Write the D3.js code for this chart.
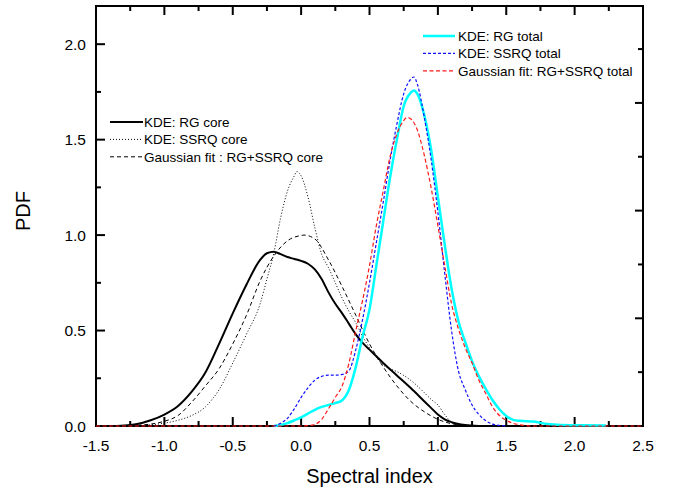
<!DOCTYPE html>
<html>
<head>
<meta charset="utf-8">
<script src="https://cdn.jsdelivr.net/npm/d3@7"></script>
<style>
  body { margin: 0; background: #fff; }
  text { font-family: "Liberation Sans", Arial, sans-serif; fill: #000; }
</style>
</head>
<body>
<div id="chart"></div>
<script>
// values: [spectral index, PDF]
var rgCore = [[-1.35,0],[-1.25,0.005],[-1.2,0.01],[-1.1,0.03],[-1.0,0.06],[-0.9,0.105],[-0.8,0.18],
  [-0.7,0.28],[-0.6,0.43],[-0.5,0.59],[-0.4,0.74],[-0.3,0.87],[-0.25,0.905],[-0.2,0.913],[-0.15,0.9],
  [-0.1,0.885],[-0.05,0.875],[0.0,0.865],[0.05,0.85],[0.1,0.82],[0.15,0.77],[0.2,0.7],[0.25,0.64],
  [0.3,0.59],[0.35,0.535],[0.4,0.48],[0.45,0.435],[0.5,0.4],[0.55,0.365],[0.6,0.33],[0.7,0.265],
  [0.8,0.2],[0.9,0.13],[0.95,0.095],[1.0,0.06],[1.05,0.035],[1.1,0.02],[1.2,0.005],[1.3,0]];

var ssrqCore = [[-1.2,0],[-1.1,0.006],[-1.0,0.015],[-0.9,0.03],[-0.8,0.055],[-0.7,0.1],[-0.65,0.14],
  [-0.6,0.19],[-0.5,0.33],[-0.4,0.48],[-0.3,0.64],[-0.25,0.77],[-0.2,0.905],[-0.15,1.09],[-0.1,1.23],
  [-0.05,1.31],[-0.03,1.333],[0.0,1.31],[0.05,1.2],[0.1,1.04],[0.15,0.9],[0.2,0.83],[0.25,0.75],
  [0.3,0.67],[0.35,0.6],[0.4,0.54],[0.45,0.47],[0.5,0.41],[0.55,0.36],[0.6,0.32],[0.65,0.3],
  [0.7,0.285],[0.75,0.265],[0.8,0.24],[0.85,0.21],[0.9,0.175],[0.95,0.14],[1.0,0.11],[1.05,0.06],
  [1.1,0.02],[1.15,0.008],[1.2,0.003],[1.3,0]];

var gaussCore = [[-1.3,0],[-1.2,0.004],[-1.1,0.01],[-1.0,0.025],[-0.9,0.055],[-0.8,0.125],[-0.7,0.21],
  [-0.6,0.3],[-0.5,0.43],[-0.4,0.58],[-0.3,0.76],[-0.2,0.89],[-0.1,0.97],[0.0,0.998],[0.02,1.0],
  [0.1,0.98],[0.2,0.87],[0.3,0.73],[0.4,0.58],[0.5,0.43],[0.6,0.31],[0.7,0.21],[0.8,0.13],
  [0.9,0.075],[1.0,0.035],[1.1,0.012],[1.2,0.003],[1.3,0]];

var rgTotal = [[-0.2,0],[-0.15,0.005],[-0.1,0.015],[-0.05,0.03],[0.0,0.045],[0.05,0.065],[0.1,0.085],
  [0.15,0.1],[0.2,0.11],[0.25,0.12],[0.3,0.135],[0.35,0.19],[0.4,0.31],[0.45,0.47],[0.5,0.61],
  [0.55,0.84],[0.6,1.07],[0.65,1.3],[0.7,1.5],[0.75,1.675],[0.8,1.745],[0.825,1.757],[0.85,1.74],
  [0.9,1.63],[0.95,1.45],[1.0,1.2],[1.05,0.95],[1.1,0.72],[1.15,0.55],[1.2,0.44],[1.25,0.34],
  [1.3,0.26],[1.35,0.195],[1.4,0.135],[1.45,0.088],[1.5,0.052],[1.55,0.032],[1.6,0.027],[1.7,0.023],
  [1.8,0.01],[1.9,0.005],[2.0,0.004],[2.23,0.002]];

var ssrqTotal = [[-0.2,0],[-0.15,0.014],[-0.1,0.04],[-0.05,0.09],[0.0,0.15],[0.05,0.2],[0.1,0.24],
  [0.15,0.26],[0.2,0.266],[0.25,0.266],[0.3,0.27],[0.35,0.29],[0.4,0.4],[0.45,0.56],[0.5,0.75],
  [0.55,0.96],[0.6,1.17],[0.65,1.39],[0.7,1.58],[0.75,1.74],[0.8,1.815],[0.825,1.828],[0.85,1.79],
  [0.9,1.62],[0.95,1.4],[1.0,1.12],[1.05,0.8],[1.1,0.5],[1.15,0.29],[1.2,0.19],[1.25,0.11],
  [1.3,0.06],[1.35,0.028],[1.4,0.01],[1.45,0.003],[1.5,0]];

var gaussTotal = [[-1.5,0],[0.0,0],[0.05,0.002],[0.1,0.008],[0.15,0.035],[0.2,0.09],[0.25,0.15],
  [0.3,0.21],[0.35,0.33],[0.4,0.5],[0.45,0.66],[0.5,0.84],[0.55,1.05],[0.6,1.23],[0.65,1.41],
  [0.7,1.53],[0.75,1.6],[0.775,1.616],[0.8,1.61],[0.85,1.55],[0.9,1.42],[0.95,1.25],[1.0,1.05],
  [1.05,0.84],[1.1,0.64],[1.15,0.51],[1.2,0.41],[1.25,0.33],[1.3,0.24],[1.35,0.17],[1.4,0.1],
  [1.45,0.055],[1.5,0.03],[1.55,0.014],[1.6,0.006],[1.7,0],[2.5,0]];

var xMajor = [-1.5,-1.0,-0.5,0.0,0.5,1.0,1.5,2.0,2.5];
var xMinor = [-1.25,-0.75,-0.25,0.25,0.75,1.25,1.75,2.25];
var yMajor = [0.0,0.5,1.0,1.5,2.0];
var yMinor = [0.25,0.75,1.25,1.75];
var rMajor = [0.5,1.0,1.5];
var rMinor = [0.25,0.75,1.25,1.75];

var legendCore = ["KDE: RG core", "KDE: SSRQ core", "Gaussian fit : RG+SSRQ core"];
var legendTotal = ["KDE: RG total", "KDE: SSRQ total", "Gaussian fit: RG+SSRQ total"];

// layout
var margin = {top: 6, right: 37, bottom: 65, left: 96},
    width = 680 - margin.left - margin.right,
    height = 491 - margin.top - margin.bottom;

var svg = d3.select("#chart")
    .append("svg")
    .attr("width", 680)
    .attr("height", 491)
    .append("g")
    .attr("transform", "translate(" + margin.left + "," + margin.top + ")");

var x = d3.scaleLinear().domain([-1.5, 2.5]).range([0, width]);
var y = d3.scaleLinear().domain([0, 2.2]).range([height, 0]);
// the right-hand axis of the original has its own (unlabelled) scale
var yRight = d3.scaleLinear().domain([0, 1.95]).range([height, 0]);

var fmt = function(d) { return d3.format(".1f")(d).replace("−", "-"); };

// inward ticks on all four sides
var ticks = svg.append("g").attr("stroke", "#000").attr("stroke-width", 2);
function xTicks(vals, len) {
  ticks.selectAll(null).data(vals).enter().append("line")
    .attr("x1", x).attr("x2", x).attr("y1", height).attr("y2", height - len);
  ticks.selectAll(null).data(vals).enter().append("line")
    .attr("x1", x).attr("x2", x).attr("y1", 0).attr("y2", len);
}
function yTicks(scale, vals, len, side) {
  var x0 = side === "left" ? 0 : width, k = side === "left" ? 1 : -1;
  ticks.selectAll(null).data(vals).enter().append("line")
    .attr("y1", scale).attr("y2", scale).attr("x1", x0).attr("x2", x0 + k * len);
}
xTicks(xMajor, 9);
xTicks(xMinor, 5);
yTicks(y, yMajor, 9, "left");
yTicks(y, yMinor, 5, "left");
yTicks(yRight, rMajor, 8, "right");
yTicks(yRight, rMinor, 5, "right");

// tick labels
svg.selectAll(null).data(xMajor).enter().append("text")
  .attr("x", x).attr("y", height + 25)
  .attr("text-anchor", "middle")
  .style("font-size", "15.5px")
  .text(fmt);

svg.selectAll(null).data(yMajor).enter().append("text")
  .attr("x", -10).attr("y", y)
  .attr("dy", "0.36em")
  .attr("text-anchor", "end")
  .style("font-size", "15.5px")
  .text(fmt);

// frame
svg.append("rect")
  .attr("x", 0).attr("y", 0)
  .attr("width", width).attr("height", height)
  .attr("fill", "none").attr("stroke", "#000").attr("stroke-width", 2);

// axis titles
svg.append("text")
  .attr("x", x(0.5)).attr("y", height + 57)
  .attr("text-anchor", "middle")
  .style("font-size", "20px")
  .text("Spectral index");

svg.append("text")
  .attr("transform", "translate(" + (-66) + "," + (height / 2 - 5) + ") rotate(-90)")
  .attr("text-anchor", "middle")
  .style("font-size", "20px")
  .text("PDF");

// curves
var line = d3.line()
  .x(function(d) { return x(d[0]); })
  .y(function(d) { return y(d[1]); })
  .curve(d3.curveMonotoneX);

var series = [
  {data: rgCore,    color: "#000",    width: 2,   dash: null},
  {data: ssrqCore,  color: "#000",    width: 1,   dash: "1,2"},
  {data: gaussCore, color: "#000",    width: 1,   dash: "4,3"},
  {data: rgTotal,   color: "#00ffff", width: 2.5, dash: null},
  {data: ssrqTotal, color: "#1010ff", width: 1.2, dash: "3,2"},
  {data: gaussTotal,color: "#ff1a1a", width: 1.2, dash: "4,2.5"}
];

series.forEach(function(s) {
  svg.append("path")
    .datum(s.data)
    .attr("fill", "none")
    .attr("stroke", s.color)
    .attr("stroke-width", s.width)
    .attr("stroke-dasharray", s.dash)
    .attr("d", line);
});

// legends
function legend(items, styles, x0, x1, tx, y0) {
  items.forEach(function(label, i) {
    var yy = y0 + i * 17.4;
    svg.append("line")
      .attr("x1", x0).attr("x2", x1)
      .attr("y1", yy).attr("y2", yy)
      .attr("stroke", styles[i].color)
      .attr("stroke-width", styles[i].width)
      .attr("stroke-dasharray", styles[i].dash);
    svg.append("text")
      .attr("x", tx).attr("y", yy)
      .attr("dy", "0.35em")
      .style("font-size", "13.5px")
      .text(label);
  });
}

legend(legendCore, series.slice(0, 3), 110 - margin.left, 143 - margin.left, 144 - margin.left, 122 - margin.top);
legend(legendTotal, series.slice(3), 423 - margin.left, 455 - margin.left, 458 - margin.left, 36 - margin.top);
</script>
</body>
</html>
